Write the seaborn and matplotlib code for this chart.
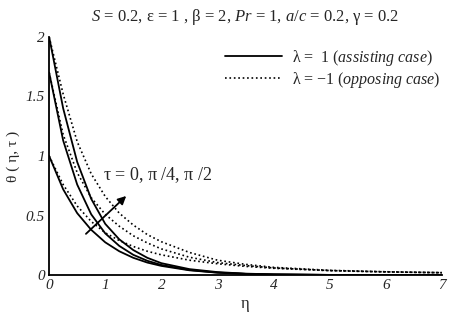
import matplotlib
matplotlib.use('Agg')
import matplotlib.pyplot as plt
import seaborn as sns
import pandas as pd

# eta grid and temperature profiles
eta = [0, 0.25, 0.5, 0.75, 1, 1.25, 1.5, 1.75, 2, 2.5, 3, 3.5, 4, 5, 6, 7]

# lambda = 1 (assisting case)
assist_top = [2.0, 1.40, 0.95, 0.64, 0.43, 0.30, 0.21, 0.145, 0.10, 0.05, 0.025, 0.012, 0.006, 0.0015, 0.0004, 0.0001]
assist_mid = [1.7, 1.13, 0.76, 0.51, 0.35, 0.245, 0.17, 0.12, 0.085, 0.043, 0.021, 0.010, 0.005, 0.0012, 0.0003, 0.0001]
assist_low = [1.0, 0.72, 0.52, 0.38, 0.275, 0.20, 0.145, 0.105, 0.077, 0.04, 0.02, 0.01, 0.005, 0.0012, 0.0003, 0.0001]

# lambda = -1 (opposing case)
oppose_top = [2.0, 1.52, 1.12, 0.85, 0.66, 0.52, 0.42, 0.34, 0.28, 0.19, 0.125, 0.09, 0.065, 0.04, 0.028, 0.02]
oppose_mid = [1.7, 1.18, 0.86, 0.65, 0.51, 0.41, 0.33, 0.27, 0.22, 0.15, 0.105, 0.08, 0.06, 0.038, 0.027, 0.02]
oppose_low = [1.0, 0.76, 0.58, 0.45, 0.355, 0.29, 0.24, 0.20, 0.17, 0.125, 0.095, 0.073, 0.057, 0.037, 0.026, 0.02]

x_ticks = [0, 1, 2, 3, 4, 5, 6, 7]
y_ticks = [0, 0.5, 1, 1.5, 2]
y_tick_labels = ['0', '0.5', '1', '1.5', '2']

sns.set_style('white')
plt.rcParams['font.family'] = ['Liberation Serif', 'DejaVu Serif']
plt.rcParams['mathtext.fontset'] = 'custom'
plt.rcParams['mathtext.rm'] = 'Liberation Serif'
plt.rcParams['mathtext.it'] = 'Liberation Serif:italic'
plt.rcParams['xtick.direction'] = 'in'
plt.rcParams['ytick.direction'] = 'in'

fig = plt.figure(figsize=(4.55, 3.18), dpi=100)
ax = fig.add_axes([0.108, 0.135, 0.863, 0.749])

curves = [
    (assist_top, '-'), (assist_mid, '-'), (assist_low, '-'),
    (oppose_top, ':'), (oppose_mid, ':'), (oppose_low, ':'),
]
for vals, ls in curves:
    df = pd.DataFrame({'eta': eta, 'theta': vals})
    sns.lineplot(data=df, x='eta', y='theta', ax=ax, color='black',
                 linestyle=ls, linewidth=1.3 if ls == '-' else 1.2)

# legend handles
h1, = ax.plot([], [], color='black', linestyle='-', linewidth=1.3)
h2, = ax.plot([], [], color='black', linestyle=':', linewidth=1.2)
ax.legend([h1, h2], ['\u03bb =  $\\mathit{1\\ (assisting\\ case)}$',
                     '\u03bb = \u2212$\\mathit{1\\ (opposing\\ case)}$'],
          loc='upper right', bbox_to_anchor=(1.025, 1.0), frameon=False,
          fontsize=11.5, handlelength=3.6, handletextpad=0.6,
          labelspacing=0.12, borderpad=0.2)

ax.set_xlim(0, 7)
ax.set_ylim(0, 2)
ax.set_xticks(x_ticks)
ax.set_xticklabels([str(t) for t in x_ticks], fontstyle='italic', fontsize=11)
ax.set_yticks(y_ticks)
ax.set_yticklabels(y_tick_labels, fontstyle='italic', fontsize=11)
ax.tick_params(length=3, width=0.8, pad=3)
sns.despine(ax=ax)
for s in ['left', 'bottom']:
    ax.spines[s].set_linewidth(1.3)
    ax.spines[s].set_color('black')

ax.set_xlabel('\u03b7', fontsize=12, labelpad=3)
ax.set_ylabel('\u03b8 ( \u03b7, \u03c4 )', fontsize=11, labelpad=4)

ax.annotate('', xy=(1.41, 0.68), xytext=(0.62, 0.33),
            arrowprops=dict(arrowstyle='-|>', color='black', lw=1.3, mutation_scale=12))
ax.text(1.93, 0.84, '\u03c4 = $\\mathit{0}$, \u03c0 /$\\mathit{4}$, \u03c0 /$\\mathit{2}$',
        ha='center', va='center', fontsize=13)

fig.text(0.538, 0.945, '$\\mathit{S}$ = $\\mathit{0.2}$, \u03b5 = $\\mathit{1}$ , \u03b2 = 2, '
         '$\\mathit{Pr}$ = $\\mathit{1}$, $\\mathit{a/c}$ = $\\mathit{0.2}$, \u03b3 = $\\mathit{0.2}$',
         ha='center', va='center', fontsize=12)

fig.savefig('out.png', dpi=100)
